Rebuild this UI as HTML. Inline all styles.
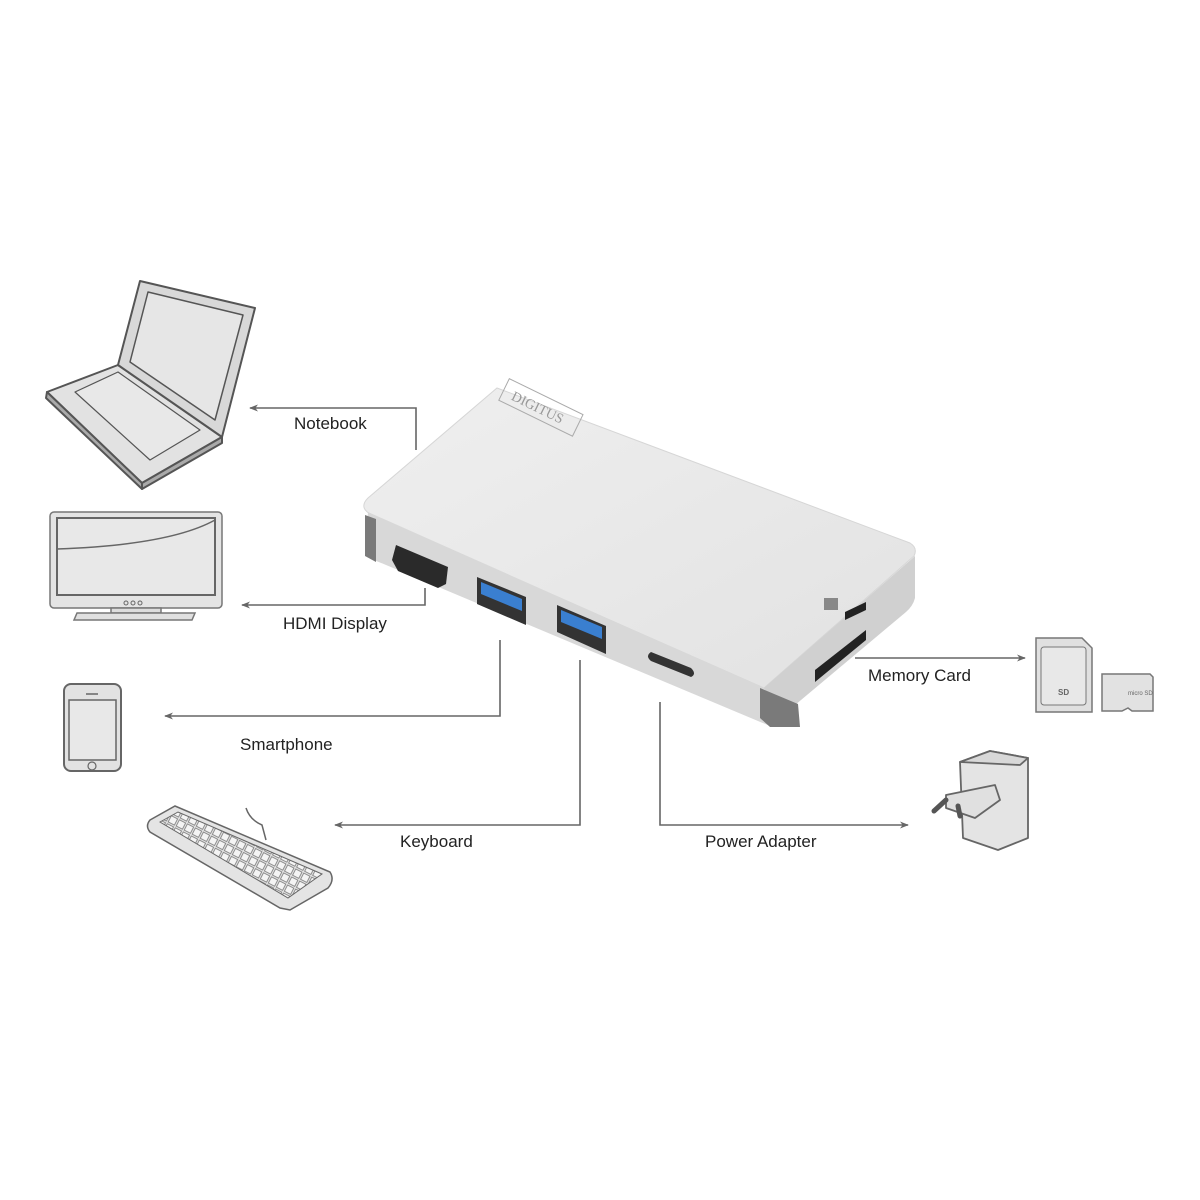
<!DOCTYPE html>
<html><head><meta charset="utf-8"><style>
html,body{margin:0;padding:0;background:#fff}
svg{display:block}
text{font-family:"Liberation Sans",sans-serif;font-size:17px;fill:#222}
</style></head><body>
<svg width="1200" height="1200" viewBox="0 0 1200 1200" xmlns="http://www.w3.org/2000/svg">
<defs>
<marker id="ar" viewBox="0 0 10 10" refX="9" refY="5" markerWidth="9" markerHeight="9" orient="auto" markerUnits="userSpaceOnUse"><path d="M0,1 L10,5 L0,9 L3,5 Z" fill="#666"/></marker>
<linearGradient id="top" x1="0" y1="0" x2="1" y2="1"><stop offset="0" stop-color="#efefef"/><stop offset="1" stop-color="#e2e2e2"/></linearGradient>
<pattern id="keys" width="9" height="9" patternUnits="userSpaceOnUse" patternTransform="rotate(27)"><rect x="1" y="1" width="7" height="7" fill="#f4f4f4" stroke="#777" stroke-width="0.8"/></pattern>
</defs>

<g stroke="#666" stroke-width="1.6" fill="none">
<path d="M416,450 V408 H250" marker-end="url(#ar)"/>
<path d="M425,588 V605 H242" marker-end="url(#ar)"/>
<path d="M500,640 V716 H165" marker-end="url(#ar)"/>
<path d="M580,660 V825 H335" marker-end="url(#ar)"/>
<path d="M660,702 V825 H908" marker-end="url(#ar)"/>
<path d="M855,658 H1025" marker-end="url(#ar)"/>
</g>
<text x="294" y="429">Notebook</text>
<text x="283" y="629">HDMI Display</text>
<text x="240" y="750">Smartphone</text>
<text x="400" y="847">Keyboard</text>
<text x="705" y="847">Power Adapter</text>
<text x="868" y="681">Memory Card</text>

<!-- device -->
<path d="M497,388 L910,543 Q918,548 914,556 L764,688 L372,515 Q358,508 368,498 Z" fill="url(#top)" stroke="#d6d6d6"/>
<path d="M368,512 L764,688 L770,726 L374,560 Q365,556 365,548 Z" fill="#d8d8d8"/>
<path d="M764,688 L915,556 L915,598 Q913,606 906,612 L770,726 Z" fill="#d0d0d0"/>
<path d="M365,515 L376,519 L376,562 L365,556 Z" fill="#7a7a7a"/>
<path d="M760,688 L798,704 L800,727 L770,727 L760,718 Z" fill="#7a7a7a"/>
<rect x="500" y="395" width="82" height="24" fill="none" stroke="#aaa" transform="rotate(26 540 407)"/>
<text x="510" y="413" transform="rotate(26 540 407)" style="font-family:'Liberation Serif',serif;font-size:14px;fill:#999">DIGITUS</text>
<path d="M396,545 L448,567 L446,584 L438,588 L398,571 L392,560 Z" fill="#2a2a2a"/>
<path d="M477,577 L526,597 L526,625 L477,604 Z" fill="#333"/>
<path d="M481,582 L522,599 L522,611 L481,594 Z" fill="#3a7fd0"/>
<path d="M557,605 L606,626 L606,654 L557,632 Z" fill="#333"/>
<path d="M561,610 L602,627 L602,639 L561,622 Z" fill="#3a7fd0"/>
<path d="M651,652 L691,668 Q697,674 691,677 L651,661 Q645,656 651,652 Z" fill="#333"/>
<path d="M845,612 L866,602 L866,610 L845,620 Z" fill="#222"/>
<path d="M815,670 L866,630 L866,640 L815,682 Z" fill="#222"/>
<rect x="824" y="598" width="14" height="12" fill="#888"/>

<!-- laptop -->
<g stroke="#555" stroke-width="2" stroke-linejoin="round">
<path d="M118,365 L222,437 L142,483 L47,392 Z" fill="#e2e2e2"/>
<path d="M47,392 L142,483 L142,489 L46,398 Z" fill="#aaa"/>
<path d="M142,483 L222,437 L222,443 L142,489 Z" fill="#aaa"/>
<path d="M75,392 L118,372 L200,430 L150,460 Z" fill="#e8e8e8" stroke-width="1.2"/>
<path d="M140,281 L255,308 L222,437 L118,365 Z" fill="#d8d8d8"/>
<path d="M148,292 L243,315 L215,420 L130,362 Z" fill="#e6e6e6" stroke-width="1.5"/>
</g>
<!-- monitor -->
<g stroke="#777" stroke-width="1.5">
<rect x="50" y="512" width="172" height="96" rx="4" fill="#e4e4e4"/>
<rect x="57" y="518" width="158" height="77" fill="#e8e8e8" stroke-width="2" stroke="#666"/>
<path d="M57,549 Q170,545 215,520" fill="none" stroke="#666"/>
<rect x="111" y="608" width="50" height="5" fill="#ddd"/>
<path d="M77,613 L195,613 L192,620 L74,620 Z" fill="#e0e0e0"/>
</g>
<g fill="none" stroke="#666" stroke-width="1">
<circle cx="126" cy="603" r="2"/><circle cx="133" cy="603" r="2"/><circle cx="140" cy="603" r="2"/>
</g>
<!-- phone -->
<g stroke="#666" stroke-width="2">
<rect x="64" y="684" width="57" height="87" rx="7" fill="#e2e2e2"/>
<rect x="69" y="700" width="47" height="60" fill="#e8e8e8" stroke-width="1.5"/>
<circle cx="92" cy="766" r="4" fill="none" stroke-width="1.2"/>
<line x1="86" y1="694" x2="98" y2="694" stroke-width="1.5"/>
</g>
<!-- keyboard -->
<g stroke="#666" stroke-width="1.5">
<path d="M150,820 L175,806 L330,872 Q335,880 328,888 L290,910 L280,908 L150,832 Q145,826 150,820 Z" fill="#e4e4e4"/>
<path d="M160,822 L178,812 L322,874 L288,898 Z" fill="url(#keys)" stroke-width="1"/>
<path d="M246,808 Q250,820 262,825 L266,840" fill="none" stroke-width="1.5"/>
</g>
<!-- SD cards -->
<g stroke="#777" stroke-width="1.5">
<path d="M1036,638 L1082,638 L1092,648 L1092,712 L1036,712 Z" fill="#e0e0e0"/>
<rect x="1041" y="647" width="45" height="58" rx="3" fill="#e8e8e8" stroke-width="1"/>
<path d="M1102,674 L1150,674 L1153,677 L1153,711 L1132,711 L1128,708 L1122,711 L1102,711 Z" fill="#e2e2e2"/>
</g>
<text x="1058" y="695" style="font-size:8px;fill:#666;font-weight:bold">SD</text>
<text x="1128" y="695" style="font-size:6px;fill:#666">micro SD</text>
<!-- power adapter -->
<g stroke="#666" stroke-width="1.8" stroke-linejoin="round">
<path d="M960,762 L990,751 L1028,758 L1028,838 L998,850 L963,838 Z" fill="#e4e4e4"/>
<path d="M990,751 L1028,758 L1020,765 L960,762 Z" fill="#d8d8d8"/>
<path d="M946,795 L995,785 L1000,800 L975,818 L946,808 Z" fill="#e0e0e0"/>
<path d="M946,800 L934,811" stroke-width="5" stroke="#555" stroke-linecap="round"/>
<path d="M958,806 L960,816" stroke-width="5" stroke="#555" stroke-linecap="round"/>
</g>
</svg>
</body></html>
